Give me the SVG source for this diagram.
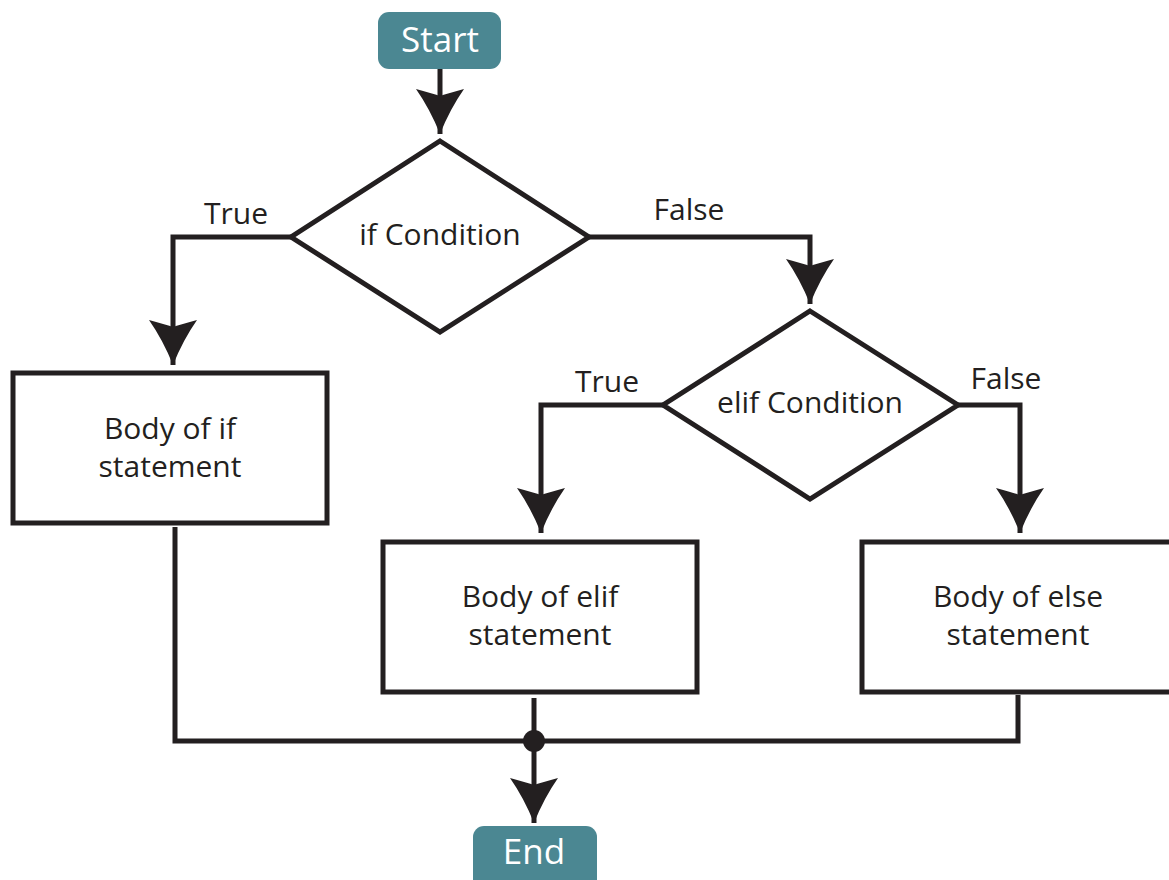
<svg xmlns="http://www.w3.org/2000/svg" width="1169" height="880" viewBox="0 0 1169 880">
<defs>
<style>
.box{fill:#fff;stroke:#231f20;stroke-width:5}
.term{fill:#4b8792}
.ln{fill:none;stroke:#231f20;stroke-width:5}
.t{font-family:"Open Sans","Noto Sans",sans-serif;font-size:30px;fill:#231f20;text-anchor:middle}
.tw{font-family:"Open Sans","Noto Sans",sans-serif;font-size:35px;fill:#fff;text-anchor:middle}
</style>
<marker id="ah" markerUnits="userSpaceOnUse" markerWidth="60" markerHeight="60" viewBox="-50 -30 60 60" refX="0" refY="0" orient="auto" overflow="visible">
<path d="M0,0 Q-25,-10 -45,-24 Q-40,-6 -38,0 Q-40,6 -45,24 Q-25,10 0,0 Z" fill="#231f20"/>
</marker>
</defs>
<g id="connectors">
<path class="ln" d="M440,68 V134" marker-end="url(#ah)"/>
<path class="ln" d="M291,237 H173 V365" marker-end="url(#ah)"/>
<path class="ln" d="M589,237 H810 V304" marker-end="url(#ah)"/>
<path class="ln" d="M663,405 H541 V533" marker-end="url(#ah)"/>
<path class="ln" d="M958,405 H1020 V533" marker-end="url(#ah)"/>
<path class="ln" d="M175,527 V741 H1018 V695"/>
<path class="ln" d="M534,698 V823" marker-end="url(#ah)"/>
<circle cx="534" cy="741" r="11" fill="#231f20"/>
<text class="t" x="236" y="224">True</text>
<text class="t" x="689" y="220">False</text>
<text class="t" x="607" y="392">True</text>
<text class="t" x="1006" y="389">False</text>
</g>
<g id="start">
<rect class="term" x="378" y="12" width="123" height="57" rx="11"/>
<text class="tw" x="440" y="52">Start</text>
</g>
<g id="if-condition">
<polygon class="box" points="440,141 589,237 440,332 291,237"/>
<text class="t" x="440" y="245">if Condition</text>
</g>
<g id="body-if">
<rect class="box" x="13" y="373" width="314" height="150"/>
<text class="t" x="170" y="439">Body of if</text>
<text class="t" x="170" y="477">statement</text>
</g>
<g id="elif-condition">
<polygon class="box" points="810,311 958,405 810,499 663,405"/>
<text class="t" x="810" y="413">elif Condition</text>
</g>
<g id="body-elif">
<rect class="box" x="383" y="542" width="314" height="150"/>
<text class="t" x="540" y="607">Body of elif</text>
<text class="t" x="540" y="645">statement</text>
</g>
<g id="body-else">
<rect class="box" x="862" y="542" width="320" height="150"/>
<text class="t" x="1018" y="607">Body of else</text>
<text class="t" x="1018" y="645">statement</text>
</g>
<g id="end">
<rect class="term" x="473" y="826" width="124" height="70" rx="11"/>
<text class="tw" x="534" y="864">End</text>
</g>
</svg>
